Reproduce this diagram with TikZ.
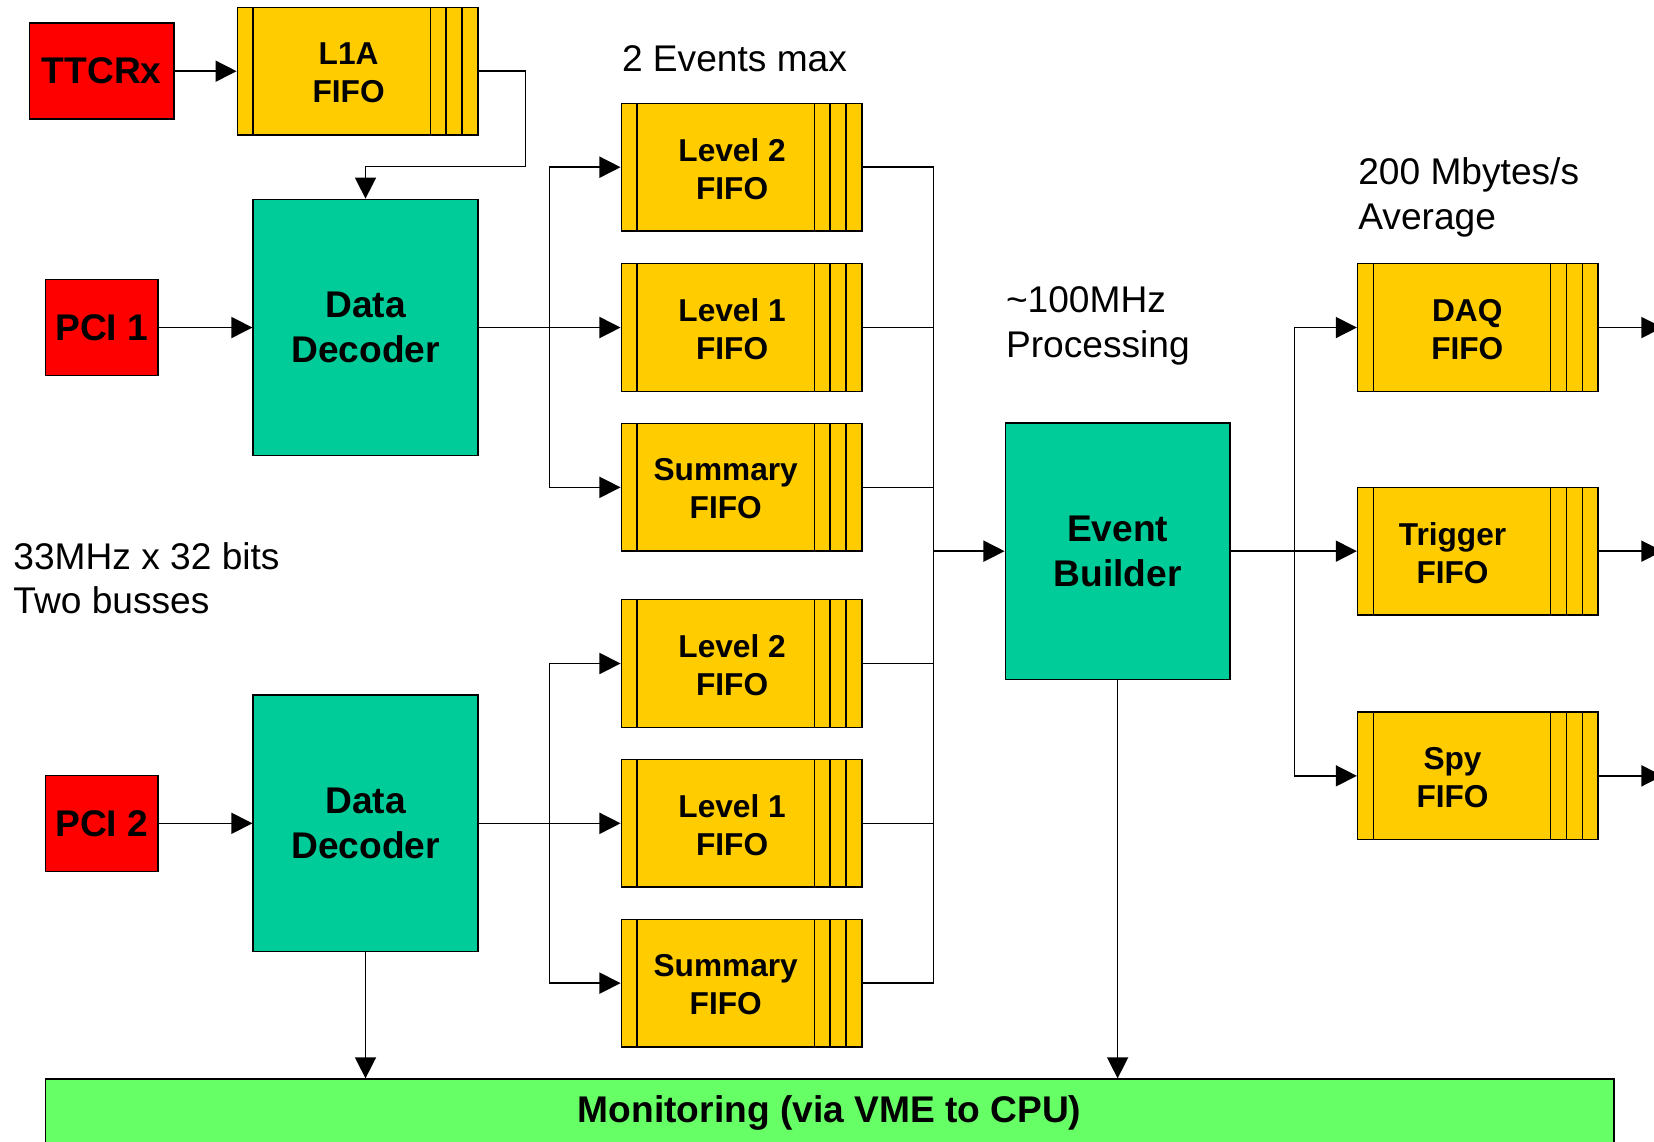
\documentclass[tikz,border=0pt]{standalone}
\usepackage{fontspec}
\setmainfont{Liberation Sans}
\usetikzlibrary{arrows.meta}
\definecolor{ttcred}{HTML}{FF0000}
\definecolor{fifoyel}{HTML}{FFCC00}
\definecolor{procgreen}{HTML}{00CC99}
\definecolor{monigreen}{HTML}{66FF66}

\begin{document}
\begin{tikzpicture}[x=0.5pt,y=-0.5pt, line width=0.7pt,
  bigfont/.style={font=\fontsize{17.6pt}{21.5pt}\selectfont\bfseries},
  src/.style={draw, fill=ttcred, inner sep=0, bigfont, minimum height=45.5pt},
  proc/.style={draw, fill=procgreen, inner sep=0, bigfont, align=center,
    minimum width=106.5pt, minimum height=121.5pt},
  fifo/.style={draw, fill=fifoyel, inner sep=0, minimum width=114pt, minimum height=60.5pt,
    path picture={
      \draw ([xshift=7.5pt]path picture bounding box.north west) -- ([xshift=7.5pt]path picture bounding box.south west);
      \foreach \s in {7.5,15,22.5}
        \draw ([xshift=-\s pt]path picture bounding box.north east) -- ([xshift=-\s pt]path picture bounding box.south east);
    }},
  fifotext/.style={font=\fontsize{15pt}{18pt}\selectfont\bfseries, align=center, inner sep=0},
  note/.style={font=\fontsize{17.6pt}{21pt}\selectfont, align=left, inner sep=0, anchor=west},
  arr/.style={-{Triangle[length=10pt,width=10pt]}}
]
\useasboundingbox (0,0) rectangle (1568,1082);
\clip (0,0) rectangle (1568,1082);

% sources
\node[src, minimum width=68.5pt] (ttc) at (96.5,67.5) {TTCRx};
\node[src, minimum width=53.5pt] (pci1) at (96.5,310.5) {PCI 1};
\node[src, minimum width=53.5pt] (pci2) at (96.5,780.5) {PCI 2};

% trigger FIFO
\node[fifo, label={[fifotext,xshift=-4.25pt,yshift=-0.75pt]center:L1A\\FIFO}] (l1a) at (339,67.5) {};

% decoders
\node[proc] (dd1) at (346.5,310.5) {Data\\Decoder};
\node[proc] (dd2) at (346.5,780.5) {Data\\Decoder};

% first group of FIFOs
\node[fifo, label={[fifotext,xshift=-4.5pt,yshift=-0.75pt]center:Level 2\\FIFO}] (ua) at (703,158.5) {};
\node[fifo, label={[fifotext,xshift=-4.5pt,yshift=-0.75pt]center:Level 1\\FIFO}] (ub) at (703,310.5) {};
\node[fifo, label={[fifotext,xshift=-7.5pt,yshift=-0.75pt]center:Summary\\FIFO}] (uc) at (703,462) {};

% second group of FIFOs
\node[fifo, label={[fifotext,xshift=-4.5pt,yshift=-0.75pt]center:Level 2\\FIFO}] (la) at (703,629) {};
\node[fifo, label={[fifotext,xshift=-4.5pt,yshift=-0.75pt]center:Level 1\\FIFO}] (lb) at (703,780.5) {};
\node[fifo, label={[fifotext,xshift=-7.5pt,yshift=-0.75pt]center:Summary\\FIFO}] (lc) at (703,932) {};

% event builder
\node[proc] (eb) at (1059.5,522.5) {Event\\Builder};

% output FIFOs
\node[fifo, label={[fifotext,xshift=-5pt,yshift=-0.75pt]center:DAQ\\FIFO}] (daq) at (1401,310.5) {};
\node[fifo, label={[fifotext,xshift=-12pt,yshift=-0.75pt]center:Trigger\\FIFO}] (trg) at (1401,522.5) {};
\node[fifo, label={[fifotext,xshift=-12pt,yshift=-0.75pt]center:Spy\\FIFO}] (spy) at (1401,735.5) {};

% monitoring bar
\node[draw, fill=monigreen, inner sep=0, bigfont, minimum width=743.5pt, minimum height=32pt] (mon) at (786.5,1055) {Monitoring (via VME to CPU)};

% notes
\node[note] (n1) at (589,56) {2 Events max};
\node[note] (n2) at (1287,187) {200 Mbytes/s\\Average};
\node[note] (n3) at (953,309) {{\char"7E}100MHz\\Processing};
\node[note] (n4) at (12,548) {33MHz x 32 bits\\Two busses};

% junctions
\coordinate (c1) at (498,158);
\coordinate (b1) at (521,310.5);
\coordinate (b2) at (521,780.5);
\coordinate (j) at (885,522.5);
\coordinate (k) at (1227,522.5);
\coordinate (o1) at (1576,310.5);
\coordinate (o2) at (1576,522.5);
\coordinate (o3) at (1576,735.5);

% connectors
\draw[arr] (ttc.east) -- (l1a.west);
\draw[arr] (l1a.east) -| (c1) -| (dd1.north);
\draw[arr] (pci1.east) -- (dd1.west);
\draw[arr] (pci2.east) -- (dd2.west);

\draw[arr] (dd1.east) -- (ub.west);
\draw[arr] (b1) |- (ua.west);
\draw[arr] (b1) |- (uc.west);
\draw[arr] (dd2.east) -- (lb.west);
\draw[arr] (b2) |- (la.west);
\draw[arr] (b2) |- (lc.west);

\draw (ua.east) -| (j);
\draw (ub.east) -| (j);
\draw (uc.east) -| (j);
\draw (la.east) -| (j);
\draw (lb.east) -| (j);
\draw (lc.east) -| (j);
\draw[arr] (j) -- (eb.west);

\draw[arr] (eb.east) -- (trg.west);
\draw[arr] (k) |- (daq.west);
\draw[arr] (k) |- (spy.west);
\draw[arr] (daq.east) -- (o1);
\draw[arr] (trg.east) -- (o2);
\draw[arr] (spy.east) -- (o3);

\draw[arr] (eb.south) -- (eb.south |- mon.north);
\draw[arr] (dd2.south) -- (dd2.south |- mon.north);
\end{tikzpicture}
\end{document}
